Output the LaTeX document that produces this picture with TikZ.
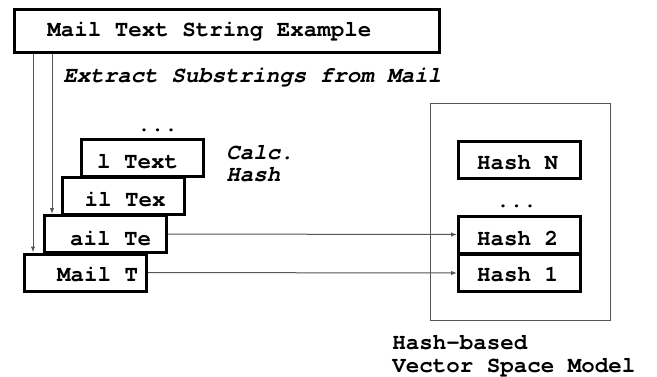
\documentclass[tikz,border=0pt]{standalone}
\usepackage{fontspec}
\setmonofont{TeX Gyre Cursor}
\usetikzlibrary{arrows.meta}
\definecolor{wire}{HTML}{555555}
\begin{document}
\begin{tikzpicture}[x=0.5pt,y=-0.5pt,
  font=\fontsize{11.25}{11.25}\selectfont\ttfamily\bfseries,
  box/.style={draw=black,line width=1.5pt,inner sep=0pt,minimum width=61pt,minimum height=18.5pt},
  txt/.style={inner sep=0pt,anchor=base west},
  ctxt/.style={inner sep=0pt,anchor=base},
  note/.style={inner sep=0pt,anchor=base west,align=left,font=\fontsize{11.25}{11.25}\selectfont\ttfamily\bfseries\itshape},
  conn/.style={draw=wire,line width=0.5pt,-{Latex[length=3pt,width=2.2pt]}}]
\useasboundingbox (0,0) rectangle (657,376);

% source text
\node[box,minimum width=212.5pt,minimum height=21.5pt] (top) at (227,31) {};
\node[txt] (toptxt) at (47,36.5) {Mail Text String Example};
\node[note] (extract) at (63,82) {Extract Substrings from Mail};

% sliding substrings
\node[box] (m1) at (85.5,272.5) {};
\node[box] (m2) at (105,234) {};
\node[box] (m3) at (123,196) {};
\node[box] (m4) at (142,158) {};
\node[ctxt] (m1t) at (97.5,281.5) {Mail T};
\node[ctxt] (m2t) at (110.5,245) {ail Te};
\node[ctxt] (m3t) at (125,206.5) {il Tex};
\node[ctxt] (m4t) at (137.5,168) {l Text};
\node[ctxt] (mdots) at (157.5,131) {...};
% multi-line nodes: base anchor sits on the last line
\node[note] (calc) at (226,181.5) {Calc.\\Hash};

% vector space model
\node[draw=wire,line width=0.5pt,minimum width=90pt,minimum height=108.5pt,inner sep=0pt] (vsm) at (520,211.5) {};
\node[box] (hN) at (519.5,159.5) {};
\node[box] (h2) at (519.5,234.5) {};
\node[box] (h1) at (519.5,273) {};
\node[ctxt] (hNt) at (517.5,169) {Hash N};
\node[ctxt] (h2t) at (517.5,245.5) {Hash 2};
\node[ctxt] (h1t) at (517.5,281.5) {Hash 1};
\node[ctxt] (hdots) at (516.5,207) {...};
\node[txt,align=left] (vsmlbl) at (392,372) {Hash-based\\Vector Space Model};

% connectors
\coordinate (d1) at (33,0);
\coordinate (d2) at (52,0);
\draw[conn] (d1 |- top.south) -- (d1 |- m1.north);
\draw[conn] (d2 |- top.south) -- (d2 |- m2.north);
\draw[conn] (m2.east) -- (h2.west);
\draw[conn] (m1.east) -- (h1.west);
\end{tikzpicture}
\end{document}
